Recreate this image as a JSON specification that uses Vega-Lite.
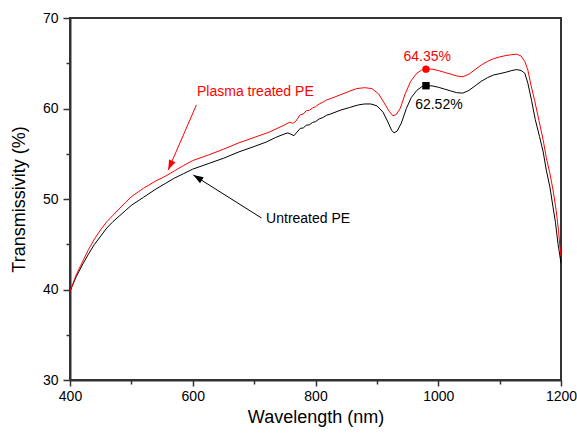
{
  "$schema": "https://vega.github.io/schema/vega-lite/v6.json",
  "autosize": "none",
  "width": 491,
  "height": 362,
  "padding": {"left": 70, "top": 18, "right": 16, "bottom": 59},
  "background": "white",
  "config": {
    "view": {"stroke": "#333333", "strokeWidth": 2},
    "font": "Liberation Sans",
    "axis": {
      "grid": false,
      "domainColor": "#333333",
      "domainWidth": 2,
      "tickColor": "#333333",
      "tickWidth": 1.5,
      "labelFont": "Liberation Sans",
      "labelFontSize": 14,
      "labelColor": "#000000",
      "titleFont": "Liberation Sans",
      "titleFontSize": 18,
      "titleFontWeight": "normal",
      "titleColor": "#000000"
    }
  },
  "datasets": {
    "curves": [
      {"wavelength": 400, "transmissivity": 39.8, "sample": "Untreated PE"},
      {"wavelength": 405, "transmissivity": 40.6, "sample": "Untreated PE"},
      {"wavelength": 410, "transmissivity": 41.4, "sample": "Untreated PE"},
      {"wavelength": 420, "transmissivity": 42.7, "sample": "Untreated PE"},
      {"wavelength": 430, "transmissivity": 43.9, "sample": "Untreated PE"},
      {"wavelength": 440, "transmissivity": 45.0, "sample": "Untreated PE"},
      {"wavelength": 450, "transmissivity": 45.9, "sample": "Untreated PE"},
      {"wavelength": 460, "transmissivity": 46.8, "sample": "Untreated PE"},
      {"wavelength": 470, "transmissivity": 47.5, "sample": "Untreated PE"},
      {"wavelength": 480, "transmissivity": 48.1, "sample": "Untreated PE"},
      {"wavelength": 490, "transmissivity": 48.7, "sample": "Untreated PE"},
      {"wavelength": 500, "transmissivity": 49.3, "sample": "Untreated PE"},
      {"wavelength": 520, "transmissivity": 50.2, "sample": "Untreated PE"},
      {"wavelength": 540, "transmissivity": 51.1, "sample": "Untreated PE"},
      {"wavelength": 555, "transmissivity": 51.7, "sample": "Untreated PE"},
      {"wavelength": 570, "transmissivity": 52.3, "sample": "Untreated PE"},
      {"wavelength": 585, "transmissivity": 52.8, "sample": "Untreated PE"},
      {"wavelength": 600, "transmissivity": 53.3, "sample": "Untreated PE"},
      {"wavelength": 625, "transmissivity": 53.9, "sample": "Untreated PE"},
      {"wavelength": 650, "transmissivity": 54.5, "sample": "Untreated PE"},
      {"wavelength": 675, "transmissivity": 55.2, "sample": "Untreated PE"},
      {"wavelength": 700, "transmissivity": 55.8, "sample": "Untreated PE"},
      {"wavelength": 720, "transmissivity": 56.3, "sample": "Untreated PE"},
      {"wavelength": 735, "transmissivity": 56.8, "sample": "Untreated PE"},
      {"wavelength": 750, "transmissivity": 57.2, "sample": "Untreated PE"},
      {"wavelength": 755, "transmissivity": 57.3, "sample": "Untreated PE"},
      {"wavelength": 760, "transmissivity": 57.15, "sample": "Untreated PE"},
      {"wavelength": 765, "transmissivity": 57.0, "sample": "Untreated PE"},
      {"wavelength": 770, "transmissivity": 57.4, "sample": "Untreated PE"},
      {"wavelength": 775, "transmissivity": 57.8, "sample": "Untreated PE"},
      {"wavelength": 780, "transmissivity": 57.85, "sample": "Untreated PE"},
      {"wavelength": 785, "transmissivity": 58.15, "sample": "Untreated PE"},
      {"wavelength": 790, "transmissivity": 58.2, "sample": "Untreated PE"},
      {"wavelength": 795, "transmissivity": 58.45, "sample": "Untreated PE"},
      {"wavelength": 800, "transmissivity": 58.55, "sample": "Untreated PE"},
      {"wavelength": 806, "transmissivity": 58.85, "sample": "Untreated PE"},
      {"wavelength": 812, "transmissivity": 59.0, "sample": "Untreated PE"},
      {"wavelength": 818, "transmissivity": 59.25, "sample": "Untreated PE"},
      {"wavelength": 825, "transmissivity": 59.4, "sample": "Untreated PE"},
      {"wavelength": 840, "transmissivity": 59.8, "sample": "Untreated PE"},
      {"wavelength": 855, "transmissivity": 60.1, "sample": "Untreated PE"},
      {"wavelength": 870, "transmissivity": 60.4, "sample": "Untreated PE"},
      {"wavelength": 880, "transmissivity": 60.5, "sample": "Untreated PE"},
      {"wavelength": 890, "transmissivity": 60.5, "sample": "Untreated PE"},
      {"wavelength": 900, "transmissivity": 60.3, "sample": "Untreated PE"},
      {"wavelength": 910, "transmissivity": 59.6, "sample": "Untreated PE"},
      {"wavelength": 918, "transmissivity": 58.5, "sample": "Untreated PE"},
      {"wavelength": 924, "transmissivity": 57.6, "sample": "Untreated PE"},
      {"wavelength": 928, "transmissivity": 57.3, "sample": "Untreated PE"},
      {"wavelength": 933, "transmissivity": 57.5, "sample": "Untreated PE"},
      {"wavelength": 940, "transmissivity": 58.4, "sample": "Untreated PE"},
      {"wavelength": 948, "transmissivity": 60.0, "sample": "Untreated PE"},
      {"wavelength": 956, "transmissivity": 61.2, "sample": "Untreated PE"},
      {"wavelength": 965, "transmissivity": 62.0, "sample": "Untreated PE"},
      {"wavelength": 973, "transmissivity": 62.4, "sample": "Untreated PE"},
      {"wavelength": 980, "transmissivity": 62.52, "sample": "Untreated PE"},
      {"wavelength": 990, "transmissivity": 62.5, "sample": "Untreated PE"},
      {"wavelength": 1000, "transmissivity": 62.35, "sample": "Untreated PE"},
      {"wavelength": 1010, "transmissivity": 62.15, "sample": "Untreated PE"},
      {"wavelength": 1020, "transmissivity": 61.95, "sample": "Untreated PE"},
      {"wavelength": 1030, "transmissivity": 61.75, "sample": "Untreated PE"},
      {"wavelength": 1040, "transmissivity": 61.7, "sample": "Untreated PE"},
      {"wavelength": 1050, "transmissivity": 62.0, "sample": "Untreated PE"},
      {"wavelength": 1060, "transmissivity": 62.5, "sample": "Untreated PE"},
      {"wavelength": 1070, "transmissivity": 63.0, "sample": "Untreated PE"},
      {"wavelength": 1080, "transmissivity": 63.4, "sample": "Untreated PE"},
      {"wavelength": 1090, "transmissivity": 63.7, "sample": "Untreated PE"},
      {"wavelength": 1100, "transmissivity": 63.85, "sample": "Untreated PE"},
      {"wavelength": 1110, "transmissivity": 64.0, "sample": "Untreated PE"},
      {"wavelength": 1120, "transmissivity": 64.2, "sample": "Untreated PE"},
      {"wavelength": 1128, "transmissivity": 64.3, "sample": "Untreated PE"},
      {"wavelength": 1135, "transmissivity": 64.2, "sample": "Untreated PE"},
      {"wavelength": 1141, "transmissivity": 63.9, "sample": "Untreated PE"},
      {"wavelength": 1146, "transmissivity": 62.8, "sample": "Untreated PE"},
      {"wavelength": 1152, "transmissivity": 60.9, "sample": "Untreated PE"},
      {"wavelength": 1158, "transmissivity": 58.8, "sample": "Untreated PE"},
      {"wavelength": 1165, "transmissivity": 56.9, "sample": "Untreated PE"},
      {"wavelength": 1171, "transmissivity": 55.2, "sample": "Untreated PE"},
      {"wavelength": 1176, "transmissivity": 53.2, "sample": "Untreated PE"},
      {"wavelength": 1182, "transmissivity": 51.3, "sample": "Untreated PE"},
      {"wavelength": 1187, "transmissivity": 49.1, "sample": "Untreated PE"},
      {"wavelength": 1191, "transmissivity": 47.4, "sample": "Untreated PE"},
      {"wavelength": 1195, "transmissivity": 45.1, "sample": "Untreated PE"},
      {"wavelength": 1198, "transmissivity": 43.8, "sample": "Untreated PE"},
      {"wavelength": 1200, "transmissivity": 42.9, "sample": "Untreated PE"},

      {"wavelength": 400, "transmissivity": 39.8, "sample": "Plasma treated PE"},
      {"wavelength": 405, "transmissivity": 40.7, "sample": "Plasma treated PE"},
      {"wavelength": 410, "transmissivity": 41.6, "sample": "Plasma treated PE"},
      {"wavelength": 420, "transmissivity": 43.0, "sample": "Plasma treated PE"},
      {"wavelength": 430, "transmissivity": 44.4, "sample": "Plasma treated PE"},
      {"wavelength": 440, "transmissivity": 45.6, "sample": "Plasma treated PE"},
      {"wavelength": 450, "transmissivity": 46.6, "sample": "Plasma treated PE"},
      {"wavelength": 460, "transmissivity": 47.5, "sample": "Plasma treated PE"},
      {"wavelength": 470, "transmissivity": 48.2, "sample": "Plasma treated PE"},
      {"wavelength": 480, "transmissivity": 48.9, "sample": "Plasma treated PE"},
      {"wavelength": 490, "transmissivity": 49.6, "sample": "Plasma treated PE"},
      {"wavelength": 500, "transmissivity": 50.25, "sample": "Plasma treated PE"},
      {"wavelength": 520, "transmissivity": 51.2, "sample": "Plasma treated PE"},
      {"wavelength": 540, "transmissivity": 52.0, "sample": "Plasma treated PE"},
      {"wavelength": 555, "transmissivity": 52.5, "sample": "Plasma treated PE"},
      {"wavelength": 570, "transmissivity": 53.1, "sample": "Plasma treated PE"},
      {"wavelength": 585, "transmissivity": 53.7, "sample": "Plasma treated PE"},
      {"wavelength": 600, "transmissivity": 54.25, "sample": "Plasma treated PE"},
      {"wavelength": 625, "transmissivity": 54.85, "sample": "Plasma treated PE"},
      {"wavelength": 650, "transmissivity": 55.5, "sample": "Plasma treated PE"},
      {"wavelength": 675, "transmissivity": 56.2, "sample": "Plasma treated PE"},
      {"wavelength": 700, "transmissivity": 56.8, "sample": "Plasma treated PE"},
      {"wavelength": 725, "transmissivity": 57.4, "sample": "Plasma treated PE"},
      {"wavelength": 750, "transmissivity": 58.2, "sample": "Plasma treated PE"},
      {"wavelength": 758, "transmissivity": 58.5, "sample": "Plasma treated PE"},
      {"wavelength": 763, "transmissivity": 58.35, "sample": "Plasma treated PE"},
      {"wavelength": 768, "transmissivity": 58.6, "sample": "Plasma treated PE"},
      {"wavelength": 775, "transmissivity": 59.3, "sample": "Plasma treated PE"},
      {"wavelength": 780, "transmissivity": 59.4, "sample": "Plasma treated PE"},
      {"wavelength": 785, "transmissivity": 59.75, "sample": "Plasma treated PE"},
      {"wavelength": 790, "transmissivity": 59.8, "sample": "Plasma treated PE"},
      {"wavelength": 795, "transmissivity": 60.05, "sample": "Plasma treated PE"},
      {"wavelength": 800, "transmissivity": 60.2, "sample": "Plasma treated PE"},
      {"wavelength": 806, "transmissivity": 60.5, "sample": "Plasma treated PE"},
      {"wavelength": 812, "transmissivity": 60.7, "sample": "Plasma treated PE"},
      {"wavelength": 818, "transmissivity": 60.95, "sample": "Plasma treated PE"},
      {"wavelength": 825, "transmissivity": 61.1, "sample": "Plasma treated PE"},
      {"wavelength": 840, "transmissivity": 61.5, "sample": "Plasma treated PE"},
      {"wavelength": 855, "transmissivity": 61.9, "sample": "Plasma treated PE"},
      {"wavelength": 867, "transmissivity": 62.2, "sample": "Plasma treated PE"},
      {"wavelength": 880, "transmissivity": 62.3, "sample": "Plasma treated PE"},
      {"wavelength": 892, "transmissivity": 62.2, "sample": "Plasma treated PE"},
      {"wavelength": 903, "transmissivity": 61.6, "sample": "Plasma treated PE"},
      {"wavelength": 912, "transmissivity": 60.6, "sample": "Plasma treated PE"},
      {"wavelength": 920, "transmissivity": 59.7, "sample": "Plasma treated PE"},
      {"wavelength": 926, "transmissivity": 59.2, "sample": "Plasma treated PE"},
      {"wavelength": 931, "transmissivity": 59.3, "sample": "Plasma treated PE"},
      {"wavelength": 938, "transmissivity": 60.0, "sample": "Plasma treated PE"},
      {"wavelength": 946, "transmissivity": 61.6, "sample": "Plasma treated PE"},
      {"wavelength": 955, "transmissivity": 63.0, "sample": "Plasma treated PE"},
      {"wavelength": 965, "transmissivity": 63.9, "sample": "Plasma treated PE"},
      {"wavelength": 973, "transmissivity": 64.25, "sample": "Plasma treated PE"},
      {"wavelength": 980, "transmissivity": 64.35, "sample": "Plasma treated PE"},
      {"wavelength": 990, "transmissivity": 64.35, "sample": "Plasma treated PE"},
      {"wavelength": 1000, "transmissivity": 64.2, "sample": "Plasma treated PE"},
      {"wavelength": 1010, "transmissivity": 64.0, "sample": "Plasma treated PE"},
      {"wavelength": 1020, "transmissivity": 63.8, "sample": "Plasma treated PE"},
      {"wavelength": 1030, "transmissivity": 63.6, "sample": "Plasma treated PE"},
      {"wavelength": 1040, "transmissivity": 63.5, "sample": "Plasma treated PE"},
      {"wavelength": 1050, "transmissivity": 63.8, "sample": "Plasma treated PE"},
      {"wavelength": 1060, "transmissivity": 64.3, "sample": "Plasma treated PE"},
      {"wavelength": 1070, "transmissivity": 64.8, "sample": "Plasma treated PE"},
      {"wavelength": 1080, "transmissivity": 65.2, "sample": "Plasma treated PE"},
      {"wavelength": 1090, "transmissivity": 65.5, "sample": "Plasma treated PE"},
      {"wavelength": 1100, "transmissivity": 65.7, "sample": "Plasma treated PE"},
      {"wavelength": 1110, "transmissivity": 65.85, "sample": "Plasma treated PE"},
      {"wavelength": 1120, "transmissivity": 65.95, "sample": "Plasma treated PE"},
      {"wavelength": 1128, "transmissivity": 66.0, "sample": "Plasma treated PE"},
      {"wavelength": 1135, "transmissivity": 65.8, "sample": "Plasma treated PE"},
      {"wavelength": 1141, "transmissivity": 65.2, "sample": "Plasma treated PE"},
      {"wavelength": 1146, "transmissivity": 64.25, "sample": "Plasma treated PE"},
      {"wavelength": 1151, "transmissivity": 62.6, "sample": "Plasma treated PE"},
      {"wavelength": 1157, "transmissivity": 60.9, "sample": "Plasma treated PE"},
      {"wavelength": 1164, "transmissivity": 58.7, "sample": "Plasma treated PE"},
      {"wavelength": 1171, "transmissivity": 56.5, "sample": "Plasma treated PE"},
      {"wavelength": 1176, "transmissivity": 54.6, "sample": "Plasma treated PE"},
      {"wavelength": 1182, "transmissivity": 52.8, "sample": "Plasma treated PE"},
      {"wavelength": 1187, "transmissivity": 51.0, "sample": "Plasma treated PE"},
      {"wavelength": 1192, "transmissivity": 48.8, "sample": "Plasma treated PE"},
      {"wavelength": 1196, "transmissivity": 46.5, "sample": "Plasma treated PE"},
      {"wavelength": 1198, "transmissivity": 44.9, "sample": "Plasma treated PE"},
      {"wavelength": 1200, "transmissivity": 43.7, "sample": "Plasma treated PE"}
    ],
    "markers": [
      {"wavelength": 980, "transmissivity": 64.35, "sample": "Plasma treated PE"},
      {"wavelength": 980, "transmissivity": 62.52, "sample": "Untreated PE"}
    ],
    "arrows": [
      {"from_w": 606, "from_t": 60.4, "to_w": 560, "to_t": 53.2, "sample": "Plasma treated PE"},
      {"from_w": 712, "from_t": 47.9, "to_w": 601, "to_t": 52.65, "sample": "Untreated PE"}
    ],
    "labels": [
      {"wavelength": 702, "transmissivity": 61.8, "text": "Plasma treated PE", "sample": "Plasma treated PE"},
      {"wavelength": 788, "transmissivity": 47.8, "text": "Untreated PE", "sample": "Untreated PE"},
      {"wavelength": 982, "transmissivity": 65.72, "text": "64.35%", "sample": "Plasma treated PE"},
      {"wavelength": 1001, "transmissivity": 60.39, "text": "62.52%", "sample": "Untreated PE"}
    ]
  },
  "layer": [
    {
      "data": {"name": "curves"},
      "mark": {"type": "line", "strokeWidth": 1, "interpolate": "linear"},
      "encoding": {
        "x": {
          "field": "wavelength", "type": "quantitative",
          "scale": {"domain": [400, 1200], "nice": false, "zero": false},
          "axis": {
            "title": "Wavelength (nm)",
            "values": [400, 500, 600, 700, 800, 900, 1000, 1100, 1200],
            "labelExpr": "datum.value % 200 === 0 ? datum.label : ''",
            "format": "d",
            "tickSize": {"condition": {"test": "datum.value % 200 === 0", "value": 6}, "value": 4},
            "labelPadding": 3,
            "titlePadding": 5,
            "labelFlush": false,
            "labelOverlap": false
          }
        },
        "y": {
          "field": "transmissivity", "type": "quantitative",
          "scale": {"domain": [30, 70], "nice": false, "zero": false},
          "axis": {
            "title": "Transmissivity (%)",
            "values": [30, 35, 40, 45, 50, 55, 60, 65, 70],
            "labelExpr": "datum.value % 10 === 0 ? datum.label : ''",
            "tickSize": {"condition": {"test": "datum.value % 10 === 0", "value": 7}, "value": 4},
            "labelPadding": 5,
            "titlePadding": 14,
            "labelFlush": false,
            "labelOverlap": false
          }
        },
        "color": {
          "field": "sample", "type": "nominal",
          "scale": {"domain": ["Untreated PE", "Plasma treated PE"], "range": ["#000000", "#ff0000"]},
          "legend": null
        },
        "detail": {"field": "sample"}
      }
    },
    {
      "data": {"name": "markers"},
      "mark": {"type": "point", "filled": true, "opacity": 1, "size": 55},
      "encoding": {
        "x": {"field": "wavelength", "type": "quantitative"},
        "y": {"field": "transmissivity", "type": "quantitative"},
        "shape": {
          "field": "sample", "type": "nominal",
          "scale": {"domain": ["Untreated PE", "Plasma treated PE"], "range": ["square", "circle"]},
          "legend": null
        },
        "color": {"field": "sample", "type": "nominal", "legend": null}
      }
    },
    {
      "data": {"name": "arrows"},
      "mark": {"type": "rule", "strokeWidth": 1},
      "encoding": {
        "x": {"field": "from_w", "type": "quantitative"},
        "y": {"field": "from_t", "type": "quantitative"},
        "x2": {"field": "to_w"},
        "y2": {"field": "to_t"},
        "color": {"field": "sample", "type": "nominal", "legend": null}
      }
    },
    {
      "data": {"name": "arrows"},
      "mark": {"type": "point", "filled": true, "opacity": 1, "shape": "M0,0 L-0.35,1 L0.35,1 Z", "size": 400, "strokeWidth": 0},
      "encoding": {
        "x": {"field": "to_w", "type": "quantitative"},
        "y": {"field": "to_t", "type": "quantitative"},
        "angle": {"condition": {"test": "datum.sample === 'Untreated PE'", "value": 302}, "value": 204},
        "color": {"field": "sample", "type": "nominal", "legend": null}
      }
    },
    {
      "data": {"name": "labels"},
      "mark": {"type": "text", "font": "Liberation Sans", "fontSize": 14, "align": "center", "baseline": "middle"},
      "encoding": {
        "x": {"field": "wavelength", "type": "quantitative"},
        "y": {"field": "transmissivity", "type": "quantitative"},
        "text": {"field": "text"},
        "color": {"field": "sample", "type": "nominal", "legend": null}
      }
    }
  ]
}
